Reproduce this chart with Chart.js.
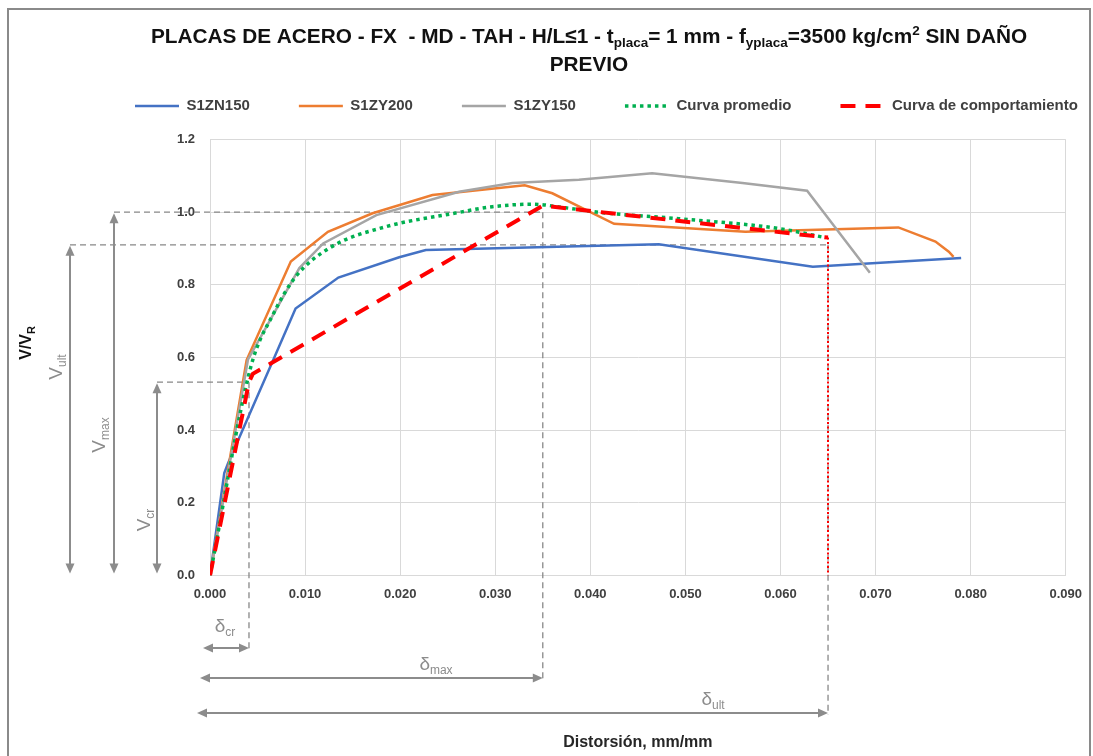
<!DOCTYPE html>
<html lang="es">
<head>
<meta charset="UTF-8">
<title>Placas de acero - V/VR vs distorsión</title>
<style>
  body { margin: 0; overflow: hidden; background: #fff; }
  #wrap { position: relative; width: 1093px; height: 756px; }
  #frame { position: absolute; left: 7px; top: 8px; width: 1084px; height: 800px; box-sizing: border-box; border: 2px solid #8a8a8a; pointer-events: none; }
  canvas { position: absolute; left: 0; top: 0; }
</style>
</head>
<body>
<div id="wrap">
  <div id="frame"></div>
  <canvas id="chart" width="1093" height="756"></canvas>
</div>

<script src="https://cdn.jsdelivr.net/npm/chart.js"></script>
<script>
// values: distorsión (mm/mm) -> V/VR
const s1zn150X = [0, 0.0015, 0.0019, 0.0065, 0.009, 0.0135, 0.0199, 0.0227, 0.0472, 0.0634, 0.079];
const s1zn150Y = [0, 0.282, 0.309, 0.584, 0.735, 0.82, 0.876, 0.896, 0.912, 0.85, 0.874];

const s1zy200X = [0, 0.00385, 0.0085, 0.0124, 0.0171, 0.0234, 0.0331, 0.036, 0.0425, 0.0563, 0.0724, 0.0763, 0.0777, 0.0782];
const s1zy200Y = [0, 0.593, 0.864, 0.946, 0.997, 1.047, 1.074, 1.052, 0.968, 0.946, 0.958, 0.919, 0.891, 0.877];

const s1zy150X = [0, 0.004, 0.0094, 0.0119, 0.0175, 0.0262, 0.0318, 0.0388, 0.0465, 0.056, 0.0628, 0.0694];
const s1zy150Y = [0, 0.595, 0.846, 0.914, 0.992, 1.056, 1.08, 1.089, 1.107, 1.08, 1.059, 0.833];

const promedioX = [0, 0.0043, 0.0067, 0.009, 0.0128, 0.0185, 0.0255, 0.0297, 0.0339, 0.0374, 0.0415, 0.0493, 0.0598, 0.0647];
const promedioY = [0, 0.575, 0.722, 0.822, 0.905, 0.96, 0.996, 1.015, 1.022, 1.012, 0.998, 0.982, 0.955, 0.93];

const comportX = [0, 0.0041, 0.0045, 0.035, 0.065];
const comportY = [0, 0.532, 0.555, 1.018, 0.93];

const ultDropX = [0.065, 0.065];
const ultDropY = [0.93, 0];

// limit states: cr, max, ult
const limitDrift = [0.0041, 0.035, 0.065];
const limitRatio = [0.532, 1.0, 0.91];

const xTicksMax = 0.09;
const yTicksMax = 1.2;

const FONT = "'Liberation Sans', Arial, sans-serif";
const GUIDE = '#888888';

const pts = (xs, ys) => xs.map((x, i) => ({ x: x, y: ys[i] }));

// draws text made of pieces (for sub / superscripts), centred on cx
function richText(ctx, parts, cx, baseY, color) {
  let total = 0;
  parts.forEach(p => {
    ctx.font = (p.bold ? 'bold ' : '') + p.size + 'px ' + FONT;
    p.w = ctx.measureText(p.t).width;
    total += p.w;
  });
  let x = cx - total / 2;
  ctx.fillStyle = color;
  ctx.textAlign = 'left';
  ctx.textBaseline = 'alphabetic';
  parts.forEach(p => {
    ctx.font = (p.bold ? 'bold ' : '') + p.size + 'px ' + FONT;
    ctx.fillText(p.t, x, baseY + (p.dy || 0));
    x += p.w;
  });
}

function rotatedText(ctx, parts, cx, cy, color) {
  ctx.save();
  ctx.translate(cx, cy);
  ctx.rotate(-Math.PI / 2);
  richText(ctx, parts, 0, parts[0].size * 0.35, color);
  ctx.restore();
}

function head(ctx, x, y, ang) {
  const L = 10, W = 4.5;
  ctx.beginPath();
  ctx.moveTo(x, y);
  ctx.lineTo(x - L * Math.cos(ang) + W * Math.sin(ang), y - L * Math.sin(ang) - W * Math.cos(ang));
  ctx.lineTo(x - L * Math.cos(ang) - W * Math.sin(ang), y - L * Math.sin(ang) + W * Math.cos(ang));
  ctx.closePath();
  ctx.fill();
}

function doubleArrow(ctx, x1, y1, x2, y2) {
  const ang = Math.atan2(y2 - y1, x2 - x1);
  ctx.beginPath();
  ctx.moveTo(x1 + 8 * Math.cos(ang), y1 + 8 * Math.sin(ang));
  ctx.lineTo(x2 - 8 * Math.cos(ang), y2 - 8 * Math.sin(ang));
  ctx.stroke();
  head(ctx, x2, y2, ang);
  head(ctx, x1, y1, ang + Math.PI);
}

function dashed(ctx, x1, y1, x2, y2) {
  ctx.beginPath();
  ctx.moveTo(x1, y1);
  ctx.lineTo(x2, y2);
  ctx.stroke();
}

// where the guide arrows sit in the margins
const vArrowX = [157, 114, 70];
const hArrowY = [648, 678, 713];
const hArrowStart = [203, 200, 197];
const hDashEnd = [652, 681, 715];

const guides = {
  id: 'guides',
  beforeDatasetsDraw(chart) {
    const ctx = chart.ctx, xs = chart.scales.x, ys = chart.scales.y;
    ctx.save();
    ctx.strokeStyle = GUIDE;
    ctx.lineWidth = 1.3;
    ctx.setLineDash([6, 4]);
    for (let i = 0; i < 3; i++) {
      const px = xs.getPixelForValue(limitDrift[i]);
      const py = ys.getPixelForValue(limitRatio[i]);
      dashed(ctx, vArrowX[i], py, px, py);
      dashed(ctx, px, py, px, hDashEnd[i]);
    }
    ctx.restore();
  },
  afterDraw(chart) {
    const ctx = chart.ctx, xs = chart.scales.x, ys = chart.scales.y;
    ctx.save();
    ctx.strokeStyle = '#8c8c8c';
    ctx.fillStyle = '#8c8c8c';
    ctx.lineWidth = 2;
    const y0 = ys.getPixelForValue(0) - 2;
    for (let i = 0; i < 3; i++) {
      doubleArrow(ctx, vArrowX[i], ys.getPixelForValue(limitRatio[i]) + 1, vArrowX[i], y0);
      doubleArrow(ctx, hArrowStart[i], hArrowY[i], xs.getPixelForValue(limitDrift[i]), hArrowY[i]);
    }
    const gray = '#8c8c8c';
    rotatedText(ctx, [{ t: 'V', size: 19 }, { t: 'cr', size: 12, dy: 4 }], 143, 520, gray);
    rotatedText(ctx, [{ t: 'V', size: 19 }, { t: 'max', size: 12, dy: 4 }], 98, 435, gray);
    rotatedText(ctx, [{ t: 'V', size: 19 }, { t: 'ult', size: 12, dy: 4 }], 55, 367, gray);
    richText(ctx, [{ t: 'δ', size: 19 }, { t: 'cr', size: 12, dy: 4 }], 225, 632, gray);
    richText(ctx, [{ t: 'δ', size: 19 }, { t: 'max', size: 12, dy: 4 }], 436, 670, gray);
    richText(ctx, [{ t: 'δ', size: 19 }, { t: 'ult', size: 12, dy: 4 }], 713, 705, gray);

    // axis title with subscript
    rotatedText(ctx, [{ t: 'V/V', size: 16, bold: true }, { t: 'R', size: 11, bold: true, dy: 4 }], 25, 343, '#111');

    // chart title
    const T = 20.8, S = 13.5;
    richText(ctx, [
      { t: 'PLACAS DE ACERO - FX  - MD - TAH - H/L≤1 - t', size: T, bold: true },
      { t: 'placa', size: S, bold: true, dy: 4 },
      { t: '= 1 mm - f', size: T, bold: true },
      { t: 'yplaca', size: S, bold: true, dy: 4 },
      { t: '=3500 kg/cm', size: T, bold: true },
      { t: '2', size: S, bold: true, dy: -8 },
      { t: ' SIN DAÑO', size: T, bold: true }
    ], 589, 43, '#111');
    richText(ctx, [{ t: 'PREVIO', size: T, bold: true }], 589, 71, '#111');
    ctx.restore();
  }
};

// legend starts where the original one does, with wide gaps between entries
const legendPlace = {
  id: 'legendPlace',
  afterLayout(chart) {
    const lg = chart.legend;
    lg.left = 135 - lg.options.labels.padding;
    lg.right = chart.width + 100;
  }
};

Chart.defaults.font.family = FONT;

const baseLine = { pointRadius: 0, pointHoverRadius: 0, fill: false, tension: 0 };

new Chart(document.getElementById('chart'), {
  type: 'line',
  data: {
    datasets: [
      { ...baseLine, label: 'S1ZN150', data: pts(s1zn150X, s1zn150Y), borderColor: '#4472c4', backgroundColor: '#4472c4', borderWidth: 2.5, order: 5 },
      { ...baseLine, label: 'S1ZY200', data: pts(s1zy200X, s1zy200Y), borderColor: '#ed7d31', backgroundColor: '#ed7d31', borderWidth: 2.5, order: 4 },
      { ...baseLine, label: 'S1ZY150', data: pts(s1zy150X, s1zy150Y), borderColor: '#a5a5a5', backgroundColor: '#a5a5a5', borderWidth: 2.5, order: 3 },
      { ...baseLine, label: 'Curva promedio', data: pts(promedioX, promedioY), borderColor: '#00b050', backgroundColor: '#00b050', borderWidth: 3.5, borderDash: [3.5, 4], cubicInterpolationMode: 'monotone', order: 2 },
      { ...baseLine, label: 'Curva de comportamiento', data: pts(comportX, comportY), borderColor: '#ff0000', backgroundColor: '#ff0000', borderWidth: 4, borderDash: [15, 10], order: 1 },
      { ...baseLine, label: 'ult', data: pts(ultDropX, ultDropY), borderColor: '#ff0000', backgroundColor: '#ff0000', borderWidth: 2, borderDash: [2, 2.5], order: 0 }
    ]
  },
  options: {
    responsive: false,
    animation: false,
    layout: { padding: { left: 10, right: 25.5, top: 49.5, bottom: 4 } },
    plugins: {
      title: { display: false },
      subtitle: { display: true, text: '', position: 'top', weight: 500, font: { size: 1 }, padding: { top: 0, bottom: 14.8 } },
      tooltip: { enabled: false },
      legend: {
        position: 'top',
        align: 'start',
        labels: {
          usePointStyle: true,
          pointStyle: 'line',
          pointStyleWidth: 44,
          padding: 49,
          color: '#404040',
          font: { size: 15, weight: 'bold' },
          filter: item => item.datasetIndex < 5,
          sort: (a, b) => a.datasetIndex - b.datasetIndex,
          // keep each series' dash pattern in its legend line
          generateLabels: chart => Chart.defaults.plugins.legend.labels.generateLabels(chart).map(item => {
            const ds = chart.data.datasets[item.datasetIndex];
            item.lineDash = ds.borderDash || [];
            item.lineWidth = ds.borderWidth;
            item.strokeStyle = ds.borderColor;
            return item;
          })
        }
      }
    },
    scales: {
      x: {
        type: 'linear',
        min: 0,
        max: xTicksMax,
        afterFit: s => { s.height = 176.5; },
        grid: { color: '#d9d9d9', drawTicks: false },
        border: { color: '#d9d9d9' },
        ticks: { stepSize: 0.01, padding: 11, maxRotation: 0, autoSkip: false, color: '#404040', font: { size: 13, weight: 'bold' }, callback: v => v.toFixed(3) },
        title: { display: true, text: 'Distorsión, mm/mm', color: '#262626', font: { size: 16, weight: 'bold' }, padding: { top: 0, bottom: 0 } }
      },
      y: {
        min: 0,
        max: yTicksMax,
        afterFit: s => { s.width = 200; },
        grid: { color: '#d9d9d9', drawTicks: false },
        border: { color: '#d9d9d9' },
        ticks: { stepSize: 0.2, padding: 15, color: '#404040', font: { size: 13, weight: 'bold' }, callback: v => v.toFixed(1) }
      }
    }
  },
  plugins: [guides, legendPlace]
});
</script>
</body>
</html>
